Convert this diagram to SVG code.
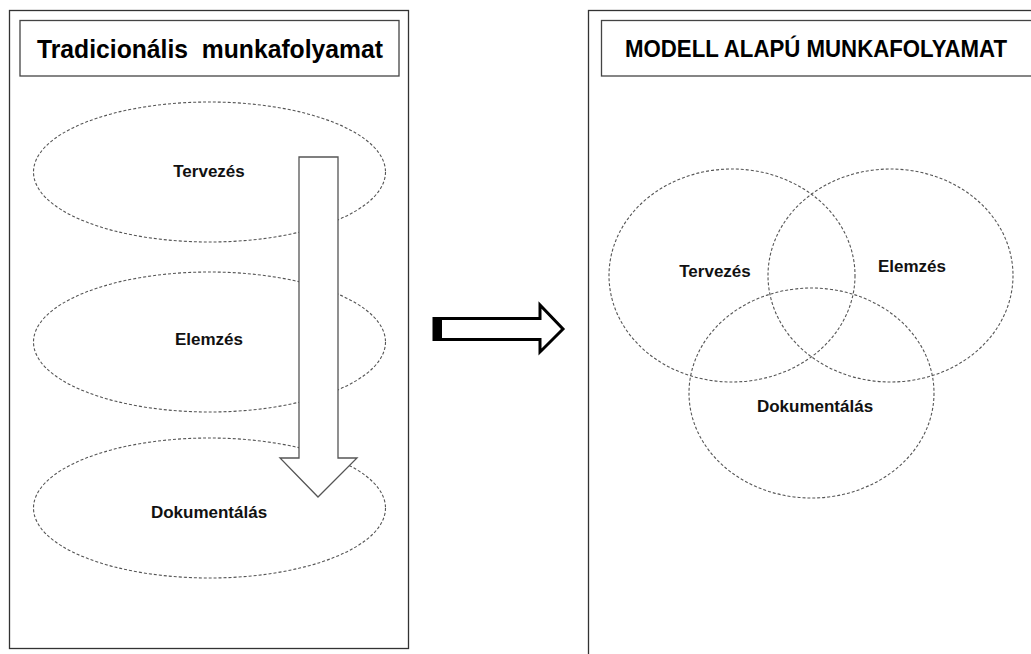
<svg xmlns="http://www.w3.org/2000/svg" width="1031" height="654" viewBox="0 0 1031 654">
<style>
.panel{fill:#fff;stroke:#333;stroke-width:1.3}
.tbox{fill:#fff;stroke:#444;stroke-width:1.3}
.title{font-family:"Liberation Sans",Arial,sans-serif;font-weight:bold;fill:#000;white-space:pre}
.oval{fill:none;stroke:#555;stroke-width:1.1;stroke-dasharray:3,2}
.lbl{font-family:"Liberation Sans",Arial,sans-serif;font-weight:bold;font-size:17px;fill:#111;text-anchor:middle}
</style>
<rect width="1031" height="654" fill="#fff"/>
<g id="left-panel">
  <rect class="panel" x="9.5" y="10.5" width="399" height="638"/>
  <rect class="tbox" x="20" y="20.5" width="379" height="55.5"/>
  <text class="title" x="37" y="58" font-size="25" textLength="346" lengthAdjust="spacingAndGlyphs" xml:space="preserve">Tradicionális  munkafolyamat</text>
</g>
<g id="left-tervezes">
  <ellipse class="oval" cx="209.5" cy="172" rx="176" ry="70"/>
  <text class="lbl" x="209" y="177">Tervezés</text>
</g>
<g id="left-elemzes">
  <ellipse class="oval" cx="209.5" cy="342" rx="176" ry="70"/>
  <text class="lbl" x="209" y="345">Elemzés</text>
</g>
<g id="left-dokumentalas">
  <ellipse class="oval" cx="209.5" cy="508" rx="176" ry="70"/>
  <text class="lbl" x="209" y="518">Dokumentálás</text>
</g>
<g id="connectors">
  <polygon points="299,157 338,157 338,458 357,458 318,497 280,458 299,458" fill="#fff" stroke="#555" stroke-width="1.3"/>
  <polygon points="434,318.5 540,318.5 540,305 563,329 540,352 540,339.5 434,339.5" fill="#fff" stroke="#000" stroke-width="3" stroke-linejoin="miter"/>
  <rect x="433" y="317" width="9" height="24" fill="#000"/>
</g>
<g id="right-panel">
  <rect class="panel" x="588.5" y="10.5" width="460" height="660"/>
  <rect class="tbox" x="601.5" y="20.5" width="440" height="55.5"/>
  <text class="title" x="625" y="57" font-size="23" textLength="382" lengthAdjust="spacingAndGlyphs">MODELL ALAPÚ MUNKAFOLYAMAT</text>
</g>
<g id="right-tervezes">
  <ellipse class="oval" cx="732" cy="275.5" rx="123" ry="106.5"/>
  <text class="lbl" x="715" y="277">Tervezés</text>
</g>
<g id="right-elemzes">
  <ellipse class="oval" cx="890.5" cy="275.5" rx="122.5" ry="106.5"/>
  <text class="lbl" x="912" y="272">Elemzés</text>
</g>
<g id="right-dokumentalas">
  <ellipse class="oval" cx="811.5" cy="393" rx="122.5" ry="105"/>
  <text class="lbl" x="815" y="412">Dokumentálás</text>
</g>
</svg>
